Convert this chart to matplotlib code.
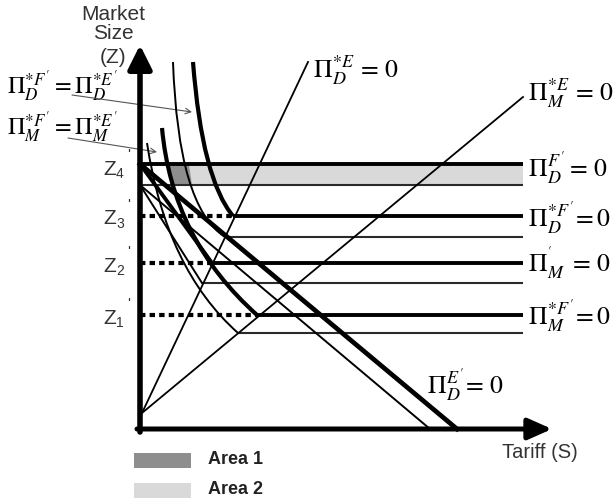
import matplotlib
matplotlib.use('Agg')
import matplotlib.pyplot as plt
from matplotlib.path import Path
from matplotlib.patches import PathPatch, FancyArrowPatch, Polygon, Rectangle

plt.rcParams['font.family'] = ['Liberation Sans', 'DejaVu Sans']
plt.rcParams['mathtext.fontset'] = 'stix'

# ---- data (units ~ pixels from the origin) ----
# horizontal profit = 0 lines: thick (after) and thin (before)
thick_h_y = [265, 213, 166, 114]
thick_h_x0 = [0, 93, 72, 117]
thin_h_y = [244, 192, 146, 96]
thin_h_x0 = [0, 85, 62, 98]
h_x1 = 383

# dotted guides to the Z levels
z_levels = [114, 166, 213, 265]
z_subs = ['1', '2', '3', '4']
dotted_x1 = [117, 72, 93, 0]

# straight lines: (x0, y0, x1, y1), width
straight_lines = [
    ((0, 265, 317, 0), 3.4),    # Pi_D^E' = 0
    ((0, 244, 290, 0), 1.4),
    ((0, 265, 72, 166), 2.8),
    ((0, 244, 62, 146), 1.4),
    ((2, 16, 168, 367), 1.3),   # Pi_D^*E = 0
    ((2, 16, 383, 332), 1.3),   # Pi_M^*E = 0
]

# iso-profit curves: start, control, end (quadratic)
curves = [
    ([(33, 367), (38, 222), (85, 192)], 1.4),   # Pi_D^*F' = Pi_D^*E' (thin)
    ([(53, 367), (62, 250), (93, 213)], 3.0),   # Pi_D^*F' = Pi_D^*E' (thick)
    ([(22, 301), (32, 190), (117, 114)], 3.0),  # Pi_M^*F' = Pi_M^*E' (thick)
    ([(7, 286), (26, 160), (98, 96)], 1.4),     # Pi_M^*F' = Pi_M^*E' (thin)
]

area1_x = [27, 49, 52, 31]
area1_y = [265, 265, 244, 244]
area2_x = [49, 383, 383, 52]
area2_y = [265, 265, 244, 244]

right_labels = [r"$\Pi_D^{F'}=\,0$", r"$\Pi_D^{*F'}\!=0$", r"$\Pi_M^{'}\;=\,0$",
                r"$\Pi_M^{*F'}\!=0$"]
right_label_y = [261, 211, 166, 113]

fig = plt.figure(figsize=(6.14, 5.01), dpi=100)
ax = fig.add_axes([0, 0, 1, 1])
ax.set_xlim(-140, 474)
ax.set_ylim(-72, 429)
ax.axis('off')

# shaded areas
ax.add_patch(Polygon(list(zip(area2_x, area2_y)), closed=True, fc='#d9d9d9', ec='none', zorder=1))
ax.add_patch(Polygon(list(zip(area1_x, area1_y)), closed=True, fc='#8e8e8e', ec='none', zorder=1))

# horizontal lines
for y, x0 in zip(thick_h_y, thick_h_x0):
    ax.plot([x0, h_x1], [y, y], color='black', lw=2.8, solid_capstyle='butt', zorder=3)
for y, x0 in zip(thin_h_y, thin_h_x0):
    ax.plot([x0, h_x1], [y, y], color='#2a2a2a', lw=1.5, solid_capstyle='butt', zorder=3)
for y, x1 in zip(z_levels, dotted_x1):
    if x1 > 0:
        ax.plot([0, x1], [y, y], color='black', lw=3, linestyle=(0, (1.3, 1.0)),
                dash_capstyle='butt', zorder=3)

for (x0, y0, x1, y1), w in straight_lines:
    ax.plot([x0, x1], [y0, y1], color='black', lw=w, zorder=4)

for pts, w in curves:
    path = Path(pts, [Path.MOVETO, Path.CURVE3, Path.CURVE3])
    ax.add_patch(PathPatch(path, fill=False, ec='black', lw=w, zorder=4))

# axes with arrows
ax.add_patch(FancyArrowPatch((0, -3), (0, 384), arrowstyle='-|>,head_length=0.9,head_width=0.45',
                             mutation_scale=16, lw=4, color='black', shrinkA=0, shrinkB=0, zorder=6))
ax.add_patch(FancyArrowPatch((-3, 0), (412, 0), arrowstyle='-|>,head_length=0.9,head_width=0.4',
                             mutation_scale=16, lw=3.6, color='black', shrinkA=0, shrinkB=0, zorder=6))

# axis titles
for txt, y in zip(['Market', 'Size', '(Z)'], [415, 396, 372]):
    ax.text(-27, y, txt, ha='center', va='center', fontsize=15, color='#333333')
ax.text(400, -23, 'Tariff (S)', ha='center', va='center', fontsize=14.5, color='#333333')

# Z level labels
for y, s in zip(z_levels, z_subs):
    yc = y - 5 if s == '4' else y - 3
    ax.text(-30, yc, 'Z', ha='center', va='center', fontsize=15, color='#333333')
    ax.text(-20, yc - 5, s, ha='center', va='center', fontsize=10, color='#333333')
    ax.text(-11, yc + 14, "'", ha='center', va='center', fontsize=11, color='#333333')

# curve labels
fs = 18.5
ax.text(173, 359, r'$\Pi_D^{*E}\,=\,0$', ha='left', va='center', fontsize=fs)
ax.text(388, 336, r'$\Pi_M^{*E}\,=\,0$', ha='left', va='center', fontsize=fs)
for txt, y in zip(right_labels, right_label_y):
    ax.text(388, y, txt, ha='left', va='center', fontsize=fs)
ax.text(287, 44, r"$\Pi_D^{E'}\!=\,0$", ha='left', va='center', fontsize=fs)
ax.text(-133, 343, r"$\Pi_D^{*F'}=\Pi_D^{*E'}$", ha='left', va='center', fontsize=17.5)
ax.text(-133, 302, r"$\Pi_M^{*F'}=\Pi_M^{*E'}$", ha='left', va='center', fontsize=17.5)

ax.annotate('', xy=(52, 317), xytext=(-68, 334),
            arrowprops=dict(arrowstyle='->', color='#555555', lw=0.8, shrinkA=0, shrinkB=0))
ax.annotate('', xy=(17, 277), xytext=(-72, 291),
            arrowprops=dict(arrowstyle='->', color='#555555', lw=0.8, shrinkA=0, shrinkB=0))

# legend boxes
ax.add_patch(Rectangle((-6, -39), 57, 15, fc='#8e8e8e', ec='none'))
ax.add_patch(Rectangle((-6, -69), 57, 15, fc='#d9d9d9', ec='none'))
ax.text(68, -31, 'Area 1', ha='left', va='center', fontsize=13, fontweight='bold', color='#222222')
ax.text(68, -61, 'Area 2', ha='left', va='center', fontsize=13, fontweight='bold', color='#222222')

fig.savefig('out.png', dpi=100)
